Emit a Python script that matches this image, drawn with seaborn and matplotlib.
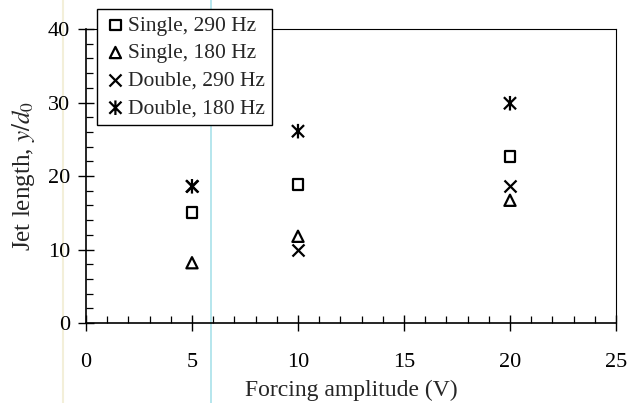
import matplotlib
matplotlib.use("Agg")
import matplotlib.pyplot as plt
from matplotlib.path import Path
from matplotlib.lines import Line2D
from matplotlib.ticker import MultipleLocator
import seaborn as sns
import pandas as pd

# Jet length versus forcing amplitude
amp_single_290 = [5, 10, 20]
len_single_290 = [15.0, 18.8, 22.7]
amp_single_180 = [5, 10, 20]
len_single_180 = [8.2, 11.8, 16.7]
amp_double_290 = [5, 10, 20]
len_double_290 = [18.6, 9.9, 18.6]
amp_double_180 = [5, 10, 20]
len_double_180 = [18.6, 26.1, 29.9]
series_labels = ["Single, 290 Hz", "Single, 180 Hz", "Double, 290 Hz", "Double, 180 Hz"]
x_ticks = [0, 5, 10, 15, 20, 25]
y_ticks = [0, 10, 20, 30, 40]

sns.set_theme(style="ticks")
plt.rcParams["font.family"] = ["Liberation Serif", "DejaVu Serif"]
plt.rcParams["mathtext.fontset"] = "stix"

# asterisk made of an X with a vertical bar
star_path = Path(
    [(-1, -1), (1, 1), (-1, 1), (1, -1), (0, -1.2), (0, 1.2)],
    [Path.MOVETO, Path.LINETO, Path.MOVETO, Path.LINETO, Path.MOVETO, Path.LINETO],
)

fig = plt.figure(figsize=(6.29, 4.03), dpi=100)
fig.patch.set_facecolor("white")
ax = fig.add_axes([0.1367, 0.1985, 0.8426, 0.7295])
ax.set_facecolor("none")

frames = [
    (amp_single_290, len_single_290, "s", 60, True),
    (amp_single_180, len_single_180, "^", 65, True),
    (amp_double_290, len_double_290, "x", 75, False),
    (amp_double_180, len_double_180, star_path, 110, True),
]
for (xs, ys, mk, size, open_face), lab in zip(frames, series_labels):
    df = pd.DataFrame({"amp": xs, "len": ys})
    if open_face:
        sns.scatterplot(data=df, x="amp", y="len", marker=mk, s=size, ax=ax,
                        facecolor="none", edgecolor="black", linewidth=1.6,
                        label=lab, zorder=3)
    else:
        sns.scatterplot(data=df, x="amp", y="len", marker=mk, s=size, ax=ax,
                        color="black", linewidth=1.6, label=lab, zorder=3)

ax.set_xlim(0, 25)
ax.set_ylim(0, 40)
ax.set_xticks(x_ticks)
ax.set_yticks(y_ticks)
ax.xaxis.set_minor_locator(MultipleLocator(1))
ax.yaxis.set_minor_locator(MultipleLocator(2))
ax.tick_params(which="major", direction="inout", length=11, width=1.0,
               colors="black", labelsize=16)
ax.tick_params(axis="x", which="major", pad=16)
ax.tick_params(axis="y", which="major", pad=6)
ax.tick_params(which="minor", direction="in", length=5, width=0.9, colors="black")

for side in ["left", "bottom"]:
    ax.spines[side].set_linewidth(1.2)
    ax.spines[side].set_color("black")
for side in ["top", "right"]:
    ax.spines[side].set_visible(True)
    ax.spines[side].set_linewidth(0.8)
    ax.spines[side].set_color("black")

ax.set_xlabel("Forcing amplitude (V)", fontsize=17, labelpad=6)
ax.set_ylabel(r"Jet length, $y/d_0$", fontsize=18, labelpad=8)

leg = ax.legend(loc="upper left", bbox_to_anchor=(0.021, 1.068), fontsize=15.5,
                frameon=True, fancybox=False, edgecolor="black", framealpha=1,
                handletextpad=0.05, handlelength=1.1, borderpad=0.3,
                labelspacing=0.35, borderaxespad=0, markerscale=1.0)
leg.get_frame().set_linewidth(1.0)
leg.set_zorder(5)

# faint vertical scan streaks behind the plot
fig.add_artist(Line2D([0.336, 0.336], [0, 1], transform=fig.transFigure,
                      color="#a9e2ea", linewidth=1.2, zorder=-1))
fig.add_artist(Line2D([0.100, 0.100], [0, 1], transform=fig.transFigure,
                      color="#f3efd9", linewidth=1.5, zorder=-1))

fig.savefig("out.png", dpi=100)
